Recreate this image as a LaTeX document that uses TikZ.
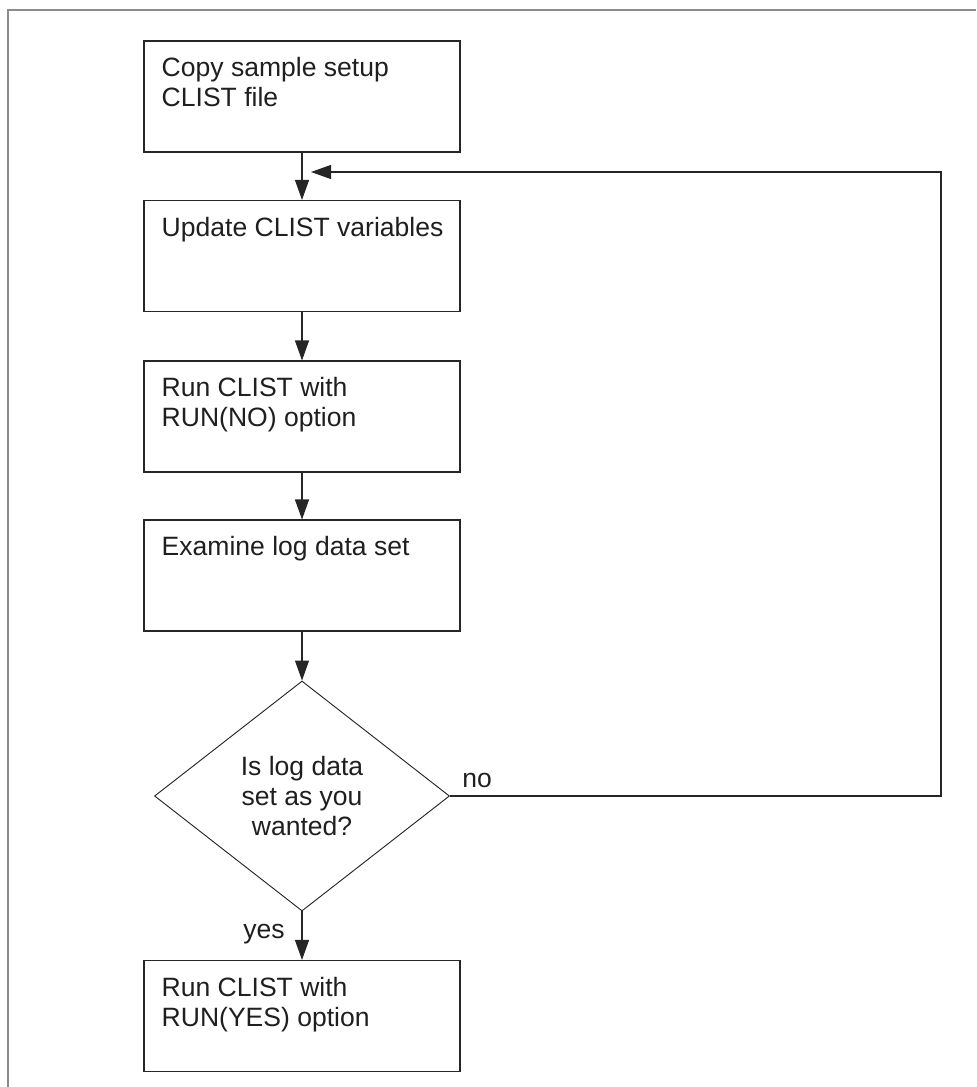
\documentclass[tikz,border=0pt]{standalone}
\usepackage{fontspec}
\setmainfont{Liberation Sans}
\usetikzlibrary{shapes.geometric,arrows.meta,calc}
\begin{document}
\begin{tikzpicture}[x=0.75pt,y=-0.75pt,
  txtfont/.style={font=\fontsize{19.9pt}{22.3pt}\selectfont, text=black!88},
  box/.style={draw=black!85, line width=0.8pt, minimum width=237pt, minimum height=83.25pt, inner sep=0},
  boxtext/.style={txtfont, anchor=north west, inner sep=0, align=left},
  decision/.style={diamond, draw=black!85, line width=0.7pt, minimum width=221.25pt, minimum height=172.5pt, inner sep=0, align=center, txtfont},
  flow/.style={draw=black!85, line width=0.8pt, -{Triangle[length=15pt,width=10.5pt]}},
  framestyle/.style={draw=black!45, line width=1.6pt},
  lbl/.style={txtfont, inner sep=0}]
\useasboundingbox (0,0) rectangle (976,1087);
\draw[framestyle] (976,10) -- (8,10) -- (8,1087);

\node[box] (b1) at (302,96.5) {};
\node[box] (b2) at (302,256) {};
\node[box] (b3) at (302,416.5) {};
\node[box] (b4) at (302,575.5) {};
\node[decision] (d) at (302,796) {Is log data\\set as you\\wanted?};
\node[box] (b5) at (302,1016) {};

\node[boxtext] (t1) at ($(b1.north west)+(18,17)$) {Copy sample setup\\CLIST file};
\node[boxtext] (t2) at ($(b2.north west)+(18,17)$) {Update CLIST variables};
\node[boxtext] (t3) at ($(b3.north west)+(18,17)$) {Run CLIST with\\RUN(NO) option};
\node[boxtext] (t4) at ($(b4.north west)+(18,17)$) {Examine log data set};
\node[boxtext] (t5) at ($(b5.north west)+(18,17)$) {Run CLIST with\\RUN(YES) option};

\draw[flow] (b1) -- (b2);
\draw[flow] (b2) -- (b3);
\draw[flow] (b3) -- (b4);
\draw[flow] (b4) -- (d);
\draw[flow] (d) -- (b5);

\coordinate (r1) at (941,796);
\coordinate (r2) at (941,172);
\coordinate (lp) at (311,172);
\draw[flow] (d.east) -- (r1) -- (r2) -- (lp);

\node[lbl, anchor=base west] (no) at (462,787) {no};
\node[lbl, anchor=base west] (yes) at (243,938) {yes};
\end{tikzpicture}
\end{document}
